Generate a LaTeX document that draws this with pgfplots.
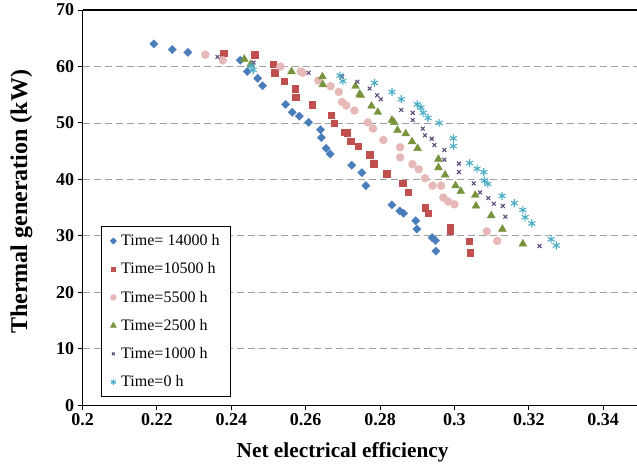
\documentclass[border=0pt]{standalone}
\usepackage{pgfplots}
\pgfplotsset{compat=1.18}
\usepackage{fontspec}
\setmainfont{Liberation Serif}

\definecolor{cBlue}{HTML}{4A7EBB}
\definecolor{cRed}{HTML}{C0504D}
\definecolor{cPink}{HTML}{E6B9B8}
\definecolor{cGreen}{HTML}{77933C}
\definecolor{cPurple}{HTML}{604A7B}
\definecolor{cCyan}{HTML}{4BACC6}

\begin{document}
\begin{tikzpicture}
\begin{axis}[
    scale only axis,
    width=554pt,
    height=395pt,
    xmin=0.2, xmax=0.3491,
    ymin=0, ymax=70,
    axis x line*=box,
    axis y line*=left,
    axis line style={line width=1.6pt},
    xtick={0.2,0.22,...,0.34},
    ytick={0,10,...,70},
    xtick pos=bottom,
    ytick pos=left,
    tick align=outside,
    major tick length=5pt,
    tick style={line width=1pt,black},
    xticklabel style={/pgf/number format/fixed,/pgf/number format/precision=2},
    /pgf/number format/assume math mode=true,
    ticklabel style={font=\bfseries\fontsize{18}{20}\selectfont},
    ymajorgrids,
    major grid style={gray!75,line width=0.9pt,dash pattern=on 7pt off 4pt},
    xlabel={Net electrical efficiency},
    ylabel={Thermal generation (kW)},
    xlabel style={font=\bfseries\fontsize{21.3}{24}\selectfont,at={(axis description cs:0.469,-0.119)},anchor=center},
    ylabel style={font=\bfseries\fontsize{24}{28}\selectfont,at={(axis description cs:-0.1101,0.515)},anchor=center},
    legend style={at={(0.0334,0.453)},anchor=north west,draw=black,line width=0.8pt,
        font=\fontsize{16}{18}\selectfont,row sep=11.6pt,inner xsep=9pt,inner ysep=6pt,
        /tikz/every odd column/.append style={column sep=3pt}},
    legend cell align=left,
    legend image code/.code={\draw[mark repeat=2,mark phase=2,#1] plot coordinates {(0pt,0pt) (6pt,0pt) (12pt,0pt)};},
    legend image post style={every mark/.append style={scale=0.7}},
]
\addplot[only marks,mark=square*,mark size=2.9pt,color=cBlue,mark options={rotate=45}] coordinates {
(0.2192,64.0) (0.2241,63.0) (0.2283,62.5) (0.2424,61.1) (0.2443,59.1) (0.2471,57.9)
(0.2484,56.6) (0.2546,53.3) (0.2564,51.9) (0.2583,51.2) (0.2608,50.1) (0.2640,48.8)
(0.2642,47.4) (0.2655,45.5) (0.2666,44.5) (0.2724,42.5) (0.2751,41.2) (0.2762,38.9)
(0.2832,35.5) (0.2853,34.4) (0.2863,34.0) (0.2896,32.7) (0.2899,31.2) (0.2940,29.7)
(0.2949,29.2) (0.2950,27.3)
};
\addplot[only marks,mark=square*,mark size=3.2pt,color=cRed] coordinates {
(0.2379,62.4) (0.2463,62.1) (0.2513,60.4) (0.2517,58.9) (0.2542,57.4) (0.2572,56.1)
(0.2573,54.6) (0.2618,53.2) (0.2668,51.4) (0.2677,50.0) (0.2704,48.4) (0.2712,48.3)
(0.2721,46.8) (0.2742,45.9) (0.2772,44.4) (0.2783,42.8) (0.2818,41.0) (0.2861,39.3)
(0.2876,37.7) (0.2921,35.0) (0.2930,34.0) (0.2988,31.5) (0.2989,30.9) (0.3039,29.1)
(0.3043,27.0)
};
\addplot[only marks,mark=*,mark size=4pt,color=cPink] coordinates {
(0.2330,62.1) (0.2377,61.1) (0.2532,60.0) (0.2587,59.1) (0.2592,58.9) (0.2634,57.5)
(0.2667,56.5) (0.2689,55.5) (0.2698,53.7) (0.2709,53.1) (0.2731,52.2) (0.2767,50.1)
(0.2781,49.0) (0.2809,47.0) (0.2854,45.7) (0.2854,43.9) (0.2887,42.7) (0.2904,41.8)
(0.2921,40.2) (0.2941,38.9) (0.2964,38.9) (0.2970,36.8) (0.2983,36.1) (0.3000,35.6)
(0.3087,30.8) (0.3115,29.1)
};
\addplot[only marks,mark=triangle*,mark size=4.5pt,color=cGreen] coordinates {
(0.2435,61.3) (0.2452,60.4) (0.2562,59.1) (0.2645,58.2) (0.2646,56.8) (0.2734,56.5)
(0.2745,55.1) (0.2748,54.9) (0.2777,53.0) (0.2794,51.9) (0.2832,50.5) (0.2838,50.1)
(0.2847,48.7) (0.2869,48.1) (0.2886,46.7) (0.2901,45.5) (0.2957,43.6) (0.2957,42.1)
(0.2975,40.8) (0.3003,38.9) (0.3017,37.9) (0.3056,37.2) (0.3058,35.3) (0.3099,33.6)
(0.3129,31.2) (0.3184,28.6)
};
\addplot[only marks,mark=x,mark size=2.7pt,color=cPurple,mark options={line width=1.1pt}] coordinates {
(0.2363,61.7) (0.2460,60.7) (0.2608,58.9) (0.2698,58.2) (0.2739,57.3) (0.2772,56.1)
(0.2792,54.9) (0.2802,54.2) (0.2857,52.3) (0.2888,51.8) (0.2888,50.5) (0.2915,49.0)
(0.2921,47.8) (0.2939,47.2) (0.2946,46.1) (0.2973,45.2) (0.2973,43.5) (0.3012,42.8)
(0.3012,41.3) (0.3052,39.3) (0.3069,37.7) (0.3091,36.7) (0.3106,35.7) (0.3130,35.3)
(0.3137,33.4) (0.3229,28.2)
};
\addplot[only marks,mark=asterisk,mark size=4pt,color=cCyan,mark options={line width=1.1pt}] coordinates {
(0.2454,60.1) (0.2459,59.4) (0.2692,58.4) (0.2700,57.4) (0.2785,57.1) (0.2832,55.5)
(0.2857,54.2) (0.2900,53.3) (0.2910,52.7) (0.2916,51.8) (0.2929,50.9) (0.2959,50.0)
(0.2997,47.3) (0.2997,45.9) (0.3041,42.9) (0.3061,41.9) (0.3079,41.3) (0.3081,39.8)
(0.3090,39.2) (0.3128,37.1) (0.3161,35.8) (0.3184,34.6) (0.3190,33.3) (0.3208,32.2)
(0.3260,29.4) (0.3274,28.3)
};
\legend{Time= 14000 h,Time=10500 h,Time=5500 h,Time=2500 h,Time=1000 h,Time=0 h}
\end{axis}
\pgfresetboundingbox
\path ([xshift=-82.5pt,yshift=-59pt]current axis.south west) rectangle ([yshift=10pt]current axis.north east);
\end{tikzpicture}
\end{document}
